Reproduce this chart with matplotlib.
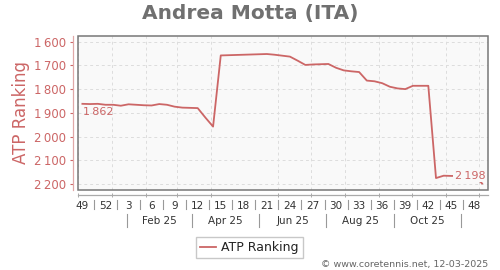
import datetime as dt
import matplotlib
matplotlib.use("Agg")
import matplotlib.pyplot as plt
from matplotlib.patches import Rectangle
from matplotlib.lines import Line2D
import matplotlib.transforms as mtransforms

# ---------------- data ----------------
start_date = dt.date(2024, 12, 5)          # week 49 of 2024 (index 0)
ranks = [1862, 1863, 1862, 1866, 1866, 1870, 1864, 1866, 1868, 1869, 1863, 1866,
         1874, 1878, 1879, 1880, 1920, 1958, 1658, 1657, 1656, 1655, 1654, 1653,
         1652, 1655, 1659, 1663, 1680, 1698, 1696, 1695, 1694, 1710, 1721, 1725,
         1728, 1764, 1767, 1775, 1790, 1797, 1800, 1786, 1786, 1786, 2175, 2165,
         2166, 2166, 2166, 2166, 2198]
week_labels = ["49", "52", "3", "6", "9", "12", "15", "18", "21", "24", "27",
               "30", "33", "36", "39", "42", "45", "48"]
month_labels = ["Feb 25", "Apr 25", "Jun 25", "Aug 25", "Oct 25"]
y_ticks = [1600, 1700, 1800, 1900, 2000, 2100, 2200]
title = "Andrea Motta (ITA)"
series_name = "ATP Ranking"
first_label = "1\u2009862"
last_label = "2\u2009198"

# ---------------- style ----------------
PINK = "#cc6666"
W, H = 500, 270


def idx_of(d):
    return (d - start_date).days / 7.0


fig = plt.figure(figsize=(W / 100, H / 100), dpi=100)
ax = fig.add_axes([78 / W, 1 - 190 / H, (487.5 - 78) / W, (190 - 35.7) / H])
ax.set_facecolor("#f9f9f9")

x = list(range(len(ranks)))
ax.plot(x, ranks, color=PINK, lw=1.3, zorder=3, label=series_name)

ax.set_xlim(-0.56, 52.7)
ax.set_ylim(2225.3, 1574.8)

# frame
ax.add_patch(Rectangle((0, 0), 1, 1, transform=ax.transAxes, fill=False,
                       ec="#777777", lw=1.1, clip_on=False, zorder=6))
ax.spines["top"].set_visible(False)
ax.spines["right"].set_visible(False)
ax.spines["left"].set_position(("outward", 3.6))
ax.spines["left"].set_color("#e0a8a8")
ax.spines["left"].set_linewidth(0.9)
ax.spines["bottom"].set_position(("outward", 3.6))
ax.spines["bottom"].set_color("#aaaaaa")
ax.spines["bottom"].set_linewidth(0.9)

# y axis
ax.set_yticks(y_ticks)
ax.set_yticklabels([f"{v:,}".replace(",", "\u2009") for v in y_ticks])
ax.tick_params(axis="y", colors=PINK, labelcolor=PINK, length=2.5, width=0.8,
               labelsize=8.5, pad=2.5)

# x axis: week labels (major), month starts (minor)
week_pos = [i * 3 for i in range(len(week_labels))]
ax.set_xticks(week_pos)
ax.set_xticklabels(week_labels)
ax.tick_params(axis="x", which="major", length=0, labelsize=7.5,
               labelcolor="#333333", pad=4)
month_starts = []
for k in range(13):
    yy, mm = 2024 + (11 + k) // 12, (11 + k) % 12 + 1
    month_starts.append(idx_of(dt.date(yy, mm, 1)))
ax.set_xticks(month_starts, minor=True)
ax.tick_params(axis="x", which="minor", length=3, width=0.7, color="#aaaaaa",
               direction="inout")

ax.grid(False)
ax.grid(True, axis="y", which="major", color="#dddddd", ls=(0, (3, 3)), lw=0.7)
ax.grid(True, axis="x", which="minor", color="#dddddd", ls=(0, (3, 3)), lw=0.7)
ax.set_axisbelow(True)

blend = mtransforms.blended_transform_factory(ax.transData, ax.transAxes)
ah = 190 - 35.7

# separators between week labels
for p in week_pos[:-1]:
    ax.plot([p + 1.5, p + 1.5], [-(200 - 190) / ah, -(209.3 - 190) / ah],
            color="#999999", lw=0.8, transform=blend, clip_on=False)

# second row: month labels and separators
seps = []
for yy, mm in [(2025, 1), (2025, 3), (2025, 5), (2025, 7), (2025, 9), (2025, 11)]:
    seps.append(idx_of(dt.date(yy, mm, 15)))
for s in seps:
    ax.plot([s, s], [-(214 - 190) / ah, -(226.7 - 190) / ah],
            color="#999999", lw=0.8, transform=blend, clip_on=False)
for i, lab in enumerate(month_labels):
    ax.text((seps[i] + seps[i + 1]) / 2, -(220.7 - 190) / ah, lab,
            transform=blend, ha="center", va="center", fontsize=7.5,
            color="#333333")

# data labels
ax.annotate(first_label, xy=(x[0], ranks[0]), xytext=(0.2, -5.8),
            textcoords="offset points", ha="left", va="center",
            fontsize=8, color=PINK, zorder=4)
ax.annotate(last_label, xy=(x[-1], ranks[-1]), xytext=(2.2, 5.7),
            textcoords="offset points", ha="right", va="center",
            fontsize=8, color=PINK, zorder=4,
            bbox=dict(boxstyle="square,pad=0.15", fc="#f9f9f9", ec="none"))

# titles
fig.text(0.5, 1 - 13.5 / H, title, ha="center", va="center", fontsize=14.5,
         fontweight="bold", color="#707070")
fig.text(20.7 / W, 1 - 113 / H, series_name, rotation=90, ha="center",
         va="center", fontsize=12, color=PINK)
fig.text(488 / W, 1 - 265 / H, "\u00a9 www.coretennis.net, 12-03-2025",
         ha="right", va="center", fontsize=6.8, color="#666666")

handle = Line2D([], [], color=PINK, lw=1.3)
fig.legend([handle], [series_name], loc="center",
           bbox_to_anchor=(249.5 / W, 1 - 247.5 / H), fontsize=9,
           frameon=True, fancybox=False, edgecolor="#bbbbbb",
           handlelength=1.3, handletextpad=0.4, borderpad=0.3,
           borderaxespad=0, labelcolor="#222222")

fig.savefig("out.png", dpi=100)
